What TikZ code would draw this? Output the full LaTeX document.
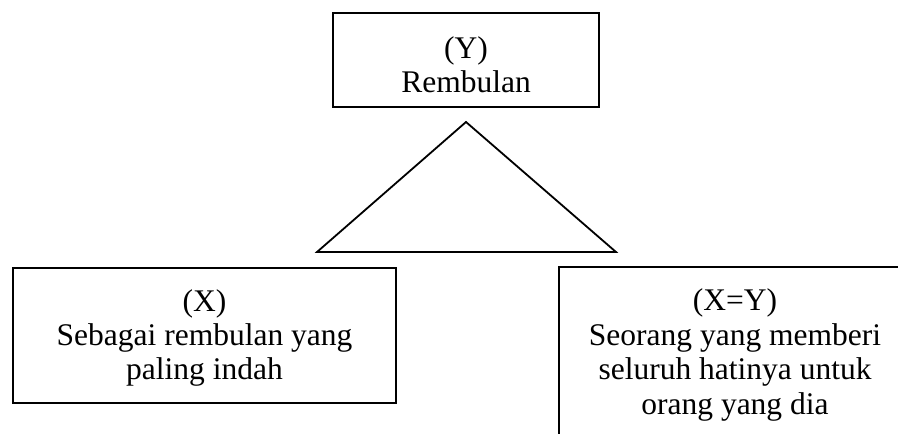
\documentclass[tikz,border=0pt]{standalone}
\usepackage{fontspec}
\setmainfont{Liberation Serif}
\begin{document}
\begin{tikzpicture}[x=1pt,y=-1pt,
  box/.style={draw=black,line width=1.8pt,rectangle,inner sep=0pt},
  txt/.style={anchor=base,inner sep=0pt,font=\fontsize{31.5}{34}\selectfont}]
\useasboundingbox (0,0) rectangle (898,434);
\clip (0,0) rectangle (898,434);
\fill[white] (0,0) rectangle (898,434);
% boxes
\node[box,minimum width=266pt,minimum height=94pt] (ybox) at (466,60) {};
\node[box,minimum width=383pt,minimum height=135pt] (xbox) at (204.5,335.5) {};
\node[box,minimum width=352pt,minimum height=200pt] (xybox) at (735,367) {};
% triangle
\draw[line width=1.8pt,line join=miter] (466,122) -- (616,252) -- (317,252) -- cycle;
% texts
\node[txt] (y1) at (466,58) {(Y)};
\node[txt] (y2) at (466,92.5) {Rembulan};
\node[txt] (x1) at (204.5,311) {(X)};
\node[txt] (x2) at (204.5,345) {Sebagai rembulan yang};
\node[txt] (x3) at (204.5,379.5) {paling indah};
\node[txt] (z1) at (735,310.5) {(X=Y)};
\node[txt] (z2) at (735,345) {Seorang yang memberi};
\node[txt] (z3) at (735,379.5) {seluruh hatinya untuk};
\node[txt] (z4) at (735,414) {orang yang dia};
\end{tikzpicture}
\end{document}
